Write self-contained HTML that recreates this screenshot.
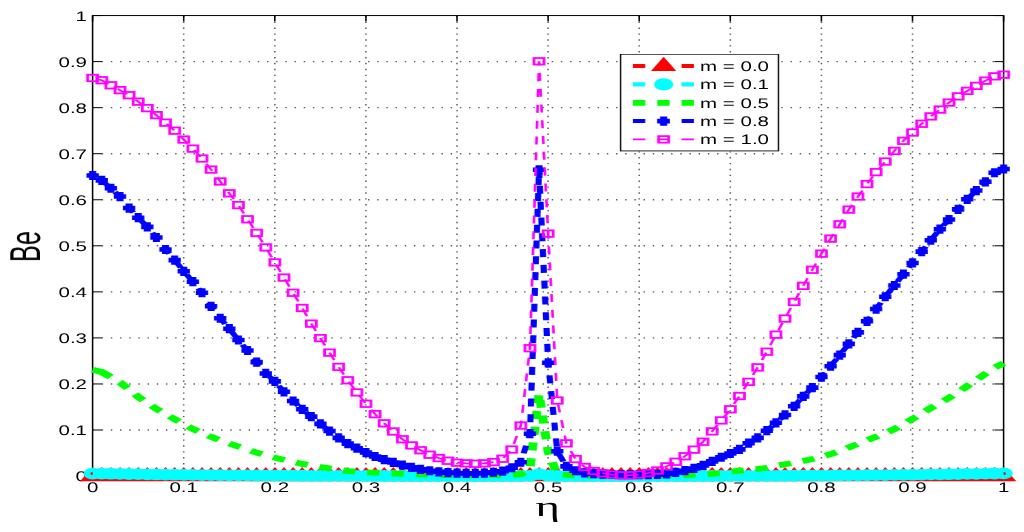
<!DOCTYPE html>
<html><head><meta charset="utf-8"><title>Be vs eta</title><style>html,body{margin:0;padding:0;background:#fff;width:1024px;height:532px;overflow:hidden}</style></head>
<body><svg width="1024" height="532" viewBox="0 0 1024 532" style="display:block">
<rect width="1024" height="532" fill="#fff"/>
<g transform="scale(1.54,1)">
<g stroke="#606060" stroke-width="1" fill="none"><line x1="119.29" y1="15.55" x2="119.29" y2="476.05" stroke-dasharray="1.4 4.484" stroke-dashoffset="-0.25"/><line x1="178.44" y1="15.55" x2="178.44" y2="476.05" stroke-dasharray="1.4 4.484" stroke-dashoffset="-0.25"/><line x1="237.6" y1="15.55" x2="237.6" y2="476.05" stroke-dasharray="1.4 4.484" stroke-dashoffset="-0.25"/><line x1="296.75" y1="15.55" x2="296.75" y2="476.05" stroke-dasharray="1.4 4.484" stroke-dashoffset="-0.25"/><line x1="355.91" y1="15.55" x2="355.91" y2="476.05" stroke-dasharray="1.4 4.484" stroke-dashoffset="-0.25"/><line x1="415.06" y1="15.55" x2="415.06" y2="476.05" stroke-dasharray="1.4 4.484" stroke-dashoffset="-0.25"/><line x1="474.22" y1="15.55" x2="474.22" y2="476.05" stroke-dasharray="1.4 4.484" stroke-dashoffset="-0.25"/><line x1="533.38" y1="15.55" x2="533.38" y2="476.05" stroke-dasharray="1.4 4.484" stroke-dashoffset="-0.25"/><line x1="592.53" y1="15.55" x2="592.53" y2="476.05" stroke-dasharray="1.4 4.484" stroke-dashoffset="-0.25"/><line x1="60.13" y1="430" x2="651.69" y2="430" stroke-dasharray="0.95 5.014" stroke-dashoffset="0.09" stroke-width="1.4"/><line x1="60.13" y1="383.95" x2="651.69" y2="383.95" stroke-dasharray="0.95 5.014" stroke-dashoffset="0.09" stroke-width="1.4"/><line x1="60.13" y1="337.9" x2="651.69" y2="337.9" stroke-dasharray="0.95 5.014" stroke-dashoffset="0.09" stroke-width="1.4"/><line x1="60.13" y1="291.85" x2="651.69" y2="291.85" stroke-dasharray="0.95 5.014" stroke-dashoffset="0.09" stroke-width="1.4"/><line x1="60.13" y1="245.8" x2="651.69" y2="245.8" stroke-dasharray="0.95 5.014" stroke-dashoffset="0.09" stroke-width="1.4"/><line x1="60.13" y1="199.75" x2="651.69" y2="199.75" stroke-dasharray="0.95 5.014" stroke-dashoffset="0.09" stroke-width="1.4"/><line x1="60.13" y1="153.7" x2="651.69" y2="153.7" stroke-dasharray="0.95 5.014" stroke-dashoffset="0.09" stroke-width="1.4"/><line x1="60.13" y1="107.65" x2="651.69" y2="107.65" stroke-dasharray="0.95 5.014" stroke-dashoffset="0.09" stroke-width="1.4"/><line x1="60.13" y1="61.6" x2="651.69" y2="61.6" stroke-dasharray="0.95 5.014" stroke-dashoffset="0.09" stroke-width="1.4"/></g>
<g stroke="#000" stroke-width="1" fill="none"><line x1="60.13" y1="476.05" x2="60.13" y2="470.05"/><line x1="60.13" y1="15.55" x2="60.13" y2="21.55"/><line x1="60.13" y1="476.05" x2="66.13" y2="476.05"/><line x1="651.69" y1="476.05" x2="645.69" y2="476.05"/><line x1="119.29" y1="476.05" x2="119.29" y2="470.05"/><line x1="119.29" y1="15.55" x2="119.29" y2="21.55"/><line x1="60.13" y1="430" x2="66.13" y2="430"/><line x1="651.69" y1="430" x2="645.69" y2="430"/><line x1="178.44" y1="476.05" x2="178.44" y2="470.05"/><line x1="178.44" y1="15.55" x2="178.44" y2="21.55"/><line x1="60.13" y1="383.95" x2="66.13" y2="383.95"/><line x1="651.69" y1="383.95" x2="645.69" y2="383.95"/><line x1="237.6" y1="476.05" x2="237.6" y2="470.05"/><line x1="237.6" y1="15.55" x2="237.6" y2="21.55"/><line x1="60.13" y1="337.9" x2="66.13" y2="337.9"/><line x1="651.69" y1="337.9" x2="645.69" y2="337.9"/><line x1="296.75" y1="476.05" x2="296.75" y2="470.05"/><line x1="296.75" y1="15.55" x2="296.75" y2="21.55"/><line x1="60.13" y1="291.85" x2="66.13" y2="291.85"/><line x1="651.69" y1="291.85" x2="645.69" y2="291.85"/><line x1="355.91" y1="476.05" x2="355.91" y2="470.05"/><line x1="355.91" y1="15.55" x2="355.91" y2="21.55"/><line x1="60.13" y1="245.8" x2="66.13" y2="245.8"/><line x1="651.69" y1="245.8" x2="645.69" y2="245.8"/><line x1="415.06" y1="476.05" x2="415.06" y2="470.05"/><line x1="415.06" y1="15.55" x2="415.06" y2="21.55"/><line x1="60.13" y1="199.75" x2="66.13" y2="199.75"/><line x1="651.69" y1="199.75" x2="645.69" y2="199.75"/><line x1="474.22" y1="476.05" x2="474.22" y2="470.05"/><line x1="474.22" y1="15.55" x2="474.22" y2="21.55"/><line x1="60.13" y1="153.7" x2="66.13" y2="153.7"/><line x1="651.69" y1="153.7" x2="645.69" y2="153.7"/><line x1="533.38" y1="476.05" x2="533.38" y2="470.05"/><line x1="533.38" y1="15.55" x2="533.38" y2="21.55"/><line x1="60.13" y1="107.65" x2="66.13" y2="107.65"/><line x1="651.69" y1="107.65" x2="645.69" y2="107.65"/><line x1="592.53" y1="476.05" x2="592.53" y2="470.05"/><line x1="592.53" y1="15.55" x2="592.53" y2="21.55"/><line x1="60.13" y1="61.6" x2="66.13" y2="61.6"/><line x1="651.69" y1="61.6" x2="645.69" y2="61.6"/><line x1="651.69" y1="476.05" x2="651.69" y2="470.05"/><line x1="651.69" y1="15.55" x2="651.69" y2="21.55"/><line x1="60.13" y1="15.55" x2="66.13" y2="15.55"/><line x1="651.69" y1="15.55" x2="645.69" y2="15.55"/><rect x="60.13" y="15.55" width="591.56" height="460.5"/></g>
</g>
<g fill="#000" opacity="0.999"><text transform="translate(92.6,492.25) scale(0.1476,0.1000)" text-rendering="geometricPrecision" font-family="Liberation Sans" font-size="139.0" text-anchor="middle">0</text><text transform="translate(87,481.05) scale(0.1476,0.1000)" text-rendering="geometricPrecision" font-family="Liberation Sans" font-size="139.0" text-anchor="end">0</text><text transform="translate(183.7,492.25) scale(0.1476,0.1000)" text-rendering="geometricPrecision" font-family="Liberation Sans" font-size="139.0" text-anchor="middle">0.1</text><text transform="translate(87,435) scale(0.1476,0.1000)" text-rendering="geometricPrecision" font-family="Liberation Sans" font-size="139.0" text-anchor="end">0.1</text><text transform="translate(274.8,492.25) scale(0.1476,0.1000)" text-rendering="geometricPrecision" font-family="Liberation Sans" font-size="139.0" text-anchor="middle">0.2</text><text transform="translate(87,388.95) scale(0.1476,0.1000)" text-rendering="geometricPrecision" font-family="Liberation Sans" font-size="139.0" text-anchor="end">0.2</text><text transform="translate(365.9,492.25) scale(0.1476,0.1000)" text-rendering="geometricPrecision" font-family="Liberation Sans" font-size="139.0" text-anchor="middle">0.3</text><text transform="translate(87,342.9) scale(0.1476,0.1000)" text-rendering="geometricPrecision" font-family="Liberation Sans" font-size="139.0" text-anchor="end">0.3</text><text transform="translate(457,492.25) scale(0.1476,0.1000)" text-rendering="geometricPrecision" font-family="Liberation Sans" font-size="139.0" text-anchor="middle">0.4</text><text transform="translate(87,296.85) scale(0.1476,0.1000)" text-rendering="geometricPrecision" font-family="Liberation Sans" font-size="139.0" text-anchor="end">0.4</text><text transform="translate(548.1,492.25) scale(0.1476,0.1000)" text-rendering="geometricPrecision" font-family="Liberation Sans" font-size="139.0" text-anchor="middle">0.5</text><text transform="translate(87,250.8) scale(0.1476,0.1000)" text-rendering="geometricPrecision" font-family="Liberation Sans" font-size="139.0" text-anchor="end">0.5</text><text transform="translate(639.2,492.25) scale(0.1476,0.1000)" text-rendering="geometricPrecision" font-family="Liberation Sans" font-size="139.0" text-anchor="middle">0.6</text><text transform="translate(87,204.75) scale(0.1476,0.1000)" text-rendering="geometricPrecision" font-family="Liberation Sans" font-size="139.0" text-anchor="end">0.6</text><text transform="translate(730.3,492.25) scale(0.1476,0.1000)" text-rendering="geometricPrecision" font-family="Liberation Sans" font-size="139.0" text-anchor="middle">0.7</text><text transform="translate(87,158.7) scale(0.1476,0.1000)" text-rendering="geometricPrecision" font-family="Liberation Sans" font-size="139.0" text-anchor="end">0.7</text><text transform="translate(821.4,492.25) scale(0.1476,0.1000)" text-rendering="geometricPrecision" font-family="Liberation Sans" font-size="139.0" text-anchor="middle">0.8</text><text transform="translate(87,112.65) scale(0.1476,0.1000)" text-rendering="geometricPrecision" font-family="Liberation Sans" font-size="139.0" text-anchor="end">0.8</text><text transform="translate(912.5,492.25) scale(0.1476,0.1000)" text-rendering="geometricPrecision" font-family="Liberation Sans" font-size="139.0" text-anchor="middle">0.9</text><text transform="translate(87,66.6) scale(0.1476,0.1000)" text-rendering="geometricPrecision" font-family="Liberation Sans" font-size="139.0" text-anchor="end">0.9</text><text transform="translate(1003.6,492.25) scale(0.1476,0.1000)" text-rendering="geometricPrecision" font-family="Liberation Sans" font-size="139.0" text-anchor="middle">1</text><text transform="translate(87,20.55) scale(0.1476,0.1000)" text-rendering="geometricPrecision" font-family="Liberation Sans" font-size="139.0" text-anchor="end">1</text></g>
<g transform="scale(1.54,1)">
<polyline points="60.13,476.05 66.05,476.05 71.96,476.05 77.88,476.05 83.79,476.05 89.71,476.05 95.62,476.05 101.54,476.05 107.45,476.05 113.37,476.05 119.29,476.05 125.2,476.05 131.12,476.05 137.03,476.05 142.95,476.05 148.86,476.05 154.78,476.05 160.69,476.05 166.61,476.05 172.53,476.05 178.44,476.05 184.36,476.05 190.27,476.05 196.19,476.05 202.1,476.05 208.02,476.05 213.94,476.05 219.85,476.05 225.77,476.05 231.68,476.05 237.6,476.05 243.51,476.05 249.43,476.05 255.34,476.05 261.26,476.05 267.18,476.05 273.09,476.05 279.01,476.05 284.92,476.05 290.84,476.05 296.75,476.05 302.67,476.05 308.58,476.05 314.5,476.05 320.42,476.05 326.33,476.05 332.25,476.05 338.16,476.05 344.08,476.05 349.99,476.05 355.91,476.05 361.82,476.05 367.74,476.05 373.66,476.05 379.57,476.05 385.49,476.05 391.4,476.05 397.32,476.05 403.23,476.05 409.15,476.05 415.06,476.05 420.98,476.05 426.9,476.05 432.81,476.05 438.73,476.05 444.64,476.05 450.56,476.05 456.47,476.05 462.39,476.05 468.31,476.05 474.22,476.05 480.14,476.05 486.05,476.05 491.97,476.05 497.88,476.05 503.8,476.05 509.71,476.05 515.63,476.05 521.55,476.05 527.46,476.05 533.38,476.05 539.29,476.05 545.21,476.05 551.12,476.05 557.04,476.05 562.95,476.05 568.87,476.05 574.79,476.05 580.7,476.05 586.62,476.05 592.53,476.05 598.45,476.05 604.36,476.05 610.28,476.05 616.19,476.05 622.11,476.05 628.03,476.05 633.94,476.05 639.86,476.05 645.77,476.05 651.69,476.05" fill="none" stroke="#f00" stroke-width="4" stroke-dasharray="8 7.8"/>
<path fill="#f00" d="M60.13,466.9L51.9,481.15L68.36,481.15ZM66.05,466.9L57.82,481.15L74.27,481.15ZM71.96,466.9L63.73,481.15L80.19,481.15ZM77.88,466.9L69.65,481.15L86.1,481.15ZM83.79,466.9L75.57,481.15L92.02,481.15ZM89.71,466.9L81.48,481.15L97.93,481.15ZM95.62,466.9L87.4,481.15L103.85,481.15ZM101.54,466.9L93.31,481.15L109.77,481.15ZM107.45,466.9L99.23,481.15L115.68,481.15ZM113.37,466.9L105.14,481.15L121.6,481.15ZM119.29,466.9L111.06,481.15L127.51,481.15ZM125.2,466.9L116.97,481.15L133.43,481.15ZM131.12,466.9L122.89,481.15L139.34,481.15ZM137.03,466.9L128.81,481.15L145.26,481.15ZM142.95,466.9L134.72,481.15L151.18,481.15ZM148.86,466.9L140.64,481.15L157.09,481.15ZM154.78,466.9L146.55,481.15L163.01,481.15ZM160.69,466.9L152.47,481.15L168.92,481.15ZM166.61,466.9L158.38,481.15L174.84,481.15ZM172.53,466.9L164.3,481.15L180.75,481.15ZM178.44,466.9L170.21,481.15L186.67,481.15ZM184.36,466.9L176.13,481.15L192.58,481.15ZM190.27,466.9L182.05,481.15L198.5,481.15ZM196.19,466.9L187.96,481.15L204.42,481.15ZM202.1,466.9L193.88,481.15L210.33,481.15ZM208.02,466.9L199.79,481.15L216.25,481.15ZM213.94,466.9L205.71,481.15L222.16,481.15ZM219.85,466.9L211.62,481.15L228.08,481.15ZM225.77,466.9L217.54,481.15L233.99,481.15ZM231.68,466.9L223.45,481.15L239.91,481.15ZM237.6,466.9L229.37,481.15L245.82,481.15ZM243.51,466.9L235.29,481.15L251.74,481.15ZM249.43,466.9L241.2,481.15L257.66,481.15ZM255.34,466.9L247.12,481.15L263.57,481.15ZM261.26,466.9L253.03,481.15L269.49,481.15ZM267.18,466.9L258.95,481.15L275.4,481.15ZM273.09,466.9L264.86,481.15L281.32,481.15ZM279.01,466.9L270.78,481.15L287.23,481.15ZM284.92,466.9L276.7,481.15L293.15,481.15ZM290.84,466.9L282.61,481.15L299.06,481.15ZM296.75,466.9L288.53,481.15L304.98,481.15ZM302.67,466.9L294.44,481.15L310.9,481.15ZM308.58,466.9L300.36,481.15L316.81,481.15ZM314.5,466.9L306.27,481.15L322.73,481.15ZM320.42,466.9L312.19,481.15L328.64,481.15ZM326.33,466.9L318.1,481.15L334.56,481.15ZM332.25,466.9L324.02,481.15L340.47,481.15ZM338.16,466.9L329.94,481.15L346.39,481.15ZM344.08,466.9L335.85,481.15L352.3,481.15ZM349.99,466.9L341.77,481.15L358.22,481.15ZM355.91,466.9L347.68,481.15L364.14,481.15ZM361.82,466.9L353.6,481.15L370.05,481.15ZM367.74,466.9L359.51,481.15L375.97,481.15ZM373.66,466.9L365.43,481.15L381.88,481.15ZM379.57,466.9L371.34,481.15L387.8,481.15ZM385.49,466.9L377.26,481.15L393.71,481.15ZM391.4,466.9L383.18,481.15L399.63,481.15ZM397.32,466.9L389.09,481.15L405.55,481.15ZM403.23,466.9L395.01,481.15L411.46,481.15ZM409.15,466.9L400.92,481.15L417.38,481.15ZM415.06,466.9L406.84,481.15L423.29,481.15ZM420.98,466.9L412.75,481.15L429.21,481.15ZM426.9,466.9L418.67,481.15L435.12,481.15ZM432.81,466.9L424.58,481.15L441.04,481.15ZM438.73,466.9L430.5,481.15L446.95,481.15ZM444.64,466.9L436.42,481.15L452.87,481.15ZM450.56,466.9L442.33,481.15L458.79,481.15ZM456.47,466.9L448.25,481.15L464.7,481.15ZM462.39,466.9L454.16,481.15L470.62,481.15ZM468.31,466.9L460.08,481.15L476.53,481.15ZM474.22,466.9L465.99,481.15L482.45,481.15ZM480.14,466.9L471.91,481.15L488.36,481.15ZM486.05,466.9L477.82,481.15L494.28,481.15ZM491.97,466.9L483.74,481.15L500.19,481.15ZM497.88,466.9L489.66,481.15L506.11,481.15ZM503.8,466.9L495.57,481.15L512.03,481.15ZM509.71,466.9L501.49,481.15L517.94,481.15ZM515.63,466.9L507.4,481.15L523.86,481.15ZM521.55,466.9L513.32,481.15L529.77,481.15ZM527.46,466.9L519.23,481.15L535.69,481.15ZM533.38,466.9L525.15,481.15L541.6,481.15ZM539.29,466.9L531.07,481.15L547.52,481.15ZM545.21,466.9L536.98,481.15L553.43,481.15ZM551.12,466.9L542.9,481.15L559.35,481.15ZM557.04,466.9L548.81,481.15L565.27,481.15ZM562.95,466.9L554.73,481.15L571.18,481.15ZM568.87,466.9L560.64,481.15L577.1,481.15ZM574.79,466.9L566.56,481.15L583.01,481.15ZM580.7,466.9L572.47,481.15L588.93,481.15ZM586.62,466.9L578.39,481.15L594.84,481.15ZM592.53,466.9L584.31,481.15L600.76,481.15ZM598.45,466.9L590.22,481.15L606.68,481.15ZM604.36,466.9L596.14,481.15L612.59,481.15ZM610.28,466.9L602.05,481.15L618.51,481.15ZM616.19,466.9L607.97,481.15L624.42,481.15ZM622.11,466.9L613.88,481.15L630.34,481.15ZM628.03,466.9L619.8,481.15L636.25,481.15ZM633.94,466.9L625.71,481.15L642.17,481.15ZM639.86,466.9L631.63,481.15L648.08,481.15ZM645.77,466.9L637.55,481.15L654,481.15ZM651.69,466.9L643.46,481.15L659.92,481.15Z"/>
<polyline points="60.13,473.55 66.05,473.6 71.96,473.72 77.88,473.85 83.79,474.02 89.71,474.19 95.62,474.34 101.54,474.47 107.45,474.59 113.37,474.71 119.29,474.83 125.2,474.94 131.12,475.04 137.03,475.13 142.95,475.21 148.86,475.28 154.78,475.36 160.69,475.43 166.61,475.5 172.53,475.56 178.44,475.62 184.36,475.67 190.27,475.72 196.19,475.76 202.1,475.8 208.02,475.84 213.94,475.87 219.85,475.9 225.77,475.93 231.68,475.95 237.6,475.96 243.51,475.97 249.43,475.98 255.34,475.99 261.26,476 267.18,476 273.09,476.01 279.01,476.01 284.92,476.02 290.84,476.03 296.75,476.03 302.67,476.03 308.58,476.03 314.5,476.03 320.42,476.03 326.33,476.03 332.25,476.02 338.16,476.01 344.08,475.89 349.99,474.11 355.91,475.49 361.82,476.01 367.74,476.02 373.66,476.03 379.57,476.04 385.49,476.04 391.4,476.04 397.32,476.04 403.23,476.04 409.15,476.04 415.06,476.04 420.98,476.04 426.9,476.04 432.81,476.03 438.73,476.03 444.64,476.03 450.56,476.02 456.47,476.01 462.39,476 468.31,475.98 474.22,475.95 480.14,475.92 486.05,475.91 491.97,475.88 497.88,475.85 503.8,475.81 509.71,475.77 515.63,475.74 521.55,475.7 527.46,475.65 533.38,475.6 539.29,475.54 545.21,475.46 551.12,475.38 557.04,475.3 562.95,475.21 568.87,475.13 574.79,475.04 580.7,474.95 586.62,474.83 592.53,474.71 598.45,474.58 604.36,474.45 610.28,474.33 616.19,474.21 622.11,474.08 628.03,473.94 633.94,473.79 639.86,473.65 645.77,473.5 651.69,473.4" fill="none" stroke="#0ff" stroke-width="4.4" stroke-dasharray="8 7.8"/>
<g fill="#0ff"><circle cx="60.13" cy="473.55" r="5.9"/><circle cx="66.05" cy="473.6" r="5.9"/><circle cx="71.96" cy="473.72" r="5.9"/><circle cx="77.88" cy="473.85" r="5.9"/><circle cx="83.79" cy="474.02" r="5.9"/><circle cx="89.71" cy="474.19" r="5.9"/><circle cx="95.62" cy="474.34" r="5.9"/><circle cx="101.54" cy="474.47" r="5.9"/><circle cx="107.45" cy="474.59" r="5.9"/><circle cx="113.37" cy="474.71" r="5.9"/><circle cx="119.29" cy="474.83" r="5.9"/><circle cx="125.2" cy="474.94" r="5.9"/><circle cx="131.12" cy="475.04" r="5.9"/><circle cx="137.03" cy="475.13" r="5.9"/><circle cx="142.95" cy="475.21" r="5.9"/><circle cx="148.86" cy="475.28" r="5.9"/><circle cx="154.78" cy="475.36" r="5.9"/><circle cx="160.69" cy="475.43" r="5.9"/><circle cx="166.61" cy="475.5" r="5.9"/><circle cx="172.53" cy="475.56" r="5.9"/><circle cx="178.44" cy="475.62" r="5.9"/><circle cx="184.36" cy="475.67" r="5.9"/><circle cx="190.27" cy="475.72" r="5.9"/><circle cx="196.19" cy="475.76" r="5.9"/><circle cx="202.1" cy="475.8" r="5.9"/><circle cx="208.02" cy="475.84" r="5.9"/><circle cx="213.94" cy="475.87" r="5.9"/><circle cx="219.85" cy="475.9" r="5.9"/><circle cx="225.77" cy="475.93" r="5.9"/><circle cx="231.68" cy="475.95" r="5.9"/><circle cx="237.6" cy="475.96" r="5.9"/><circle cx="243.51" cy="475.97" r="5.9"/><circle cx="249.43" cy="475.98" r="5.9"/><circle cx="255.34" cy="475.99" r="5.9"/><circle cx="261.26" cy="476" r="5.9"/><circle cx="267.18" cy="476" r="5.9"/><circle cx="273.09" cy="476.01" r="5.9"/><circle cx="279.01" cy="476.01" r="5.9"/><circle cx="284.92" cy="476.02" r="5.9"/><circle cx="290.84" cy="476.03" r="5.9"/><circle cx="296.75" cy="476.03" r="5.9"/><circle cx="302.67" cy="476.03" r="5.9"/><circle cx="308.58" cy="476.03" r="5.9"/><circle cx="314.5" cy="476.03" r="5.9"/><circle cx="320.42" cy="476.03" r="5.9"/><circle cx="326.33" cy="476.03" r="5.9"/><circle cx="332.25" cy="476.02" r="5.9"/><circle cx="338.16" cy="476.01" r="5.9"/><circle cx="344.08" cy="475.89" r="5.9"/><circle cx="349.99" cy="474.11" r="5.9"/><circle cx="355.91" cy="475.49" r="5.9"/><circle cx="361.82" cy="476.01" r="5.9"/><circle cx="367.74" cy="476.02" r="5.9"/><circle cx="373.66" cy="476.03" r="5.9"/><circle cx="379.57" cy="476.04" r="5.9"/><circle cx="385.49" cy="476.04" r="5.9"/><circle cx="391.4" cy="476.04" r="5.9"/><circle cx="397.32" cy="476.04" r="5.9"/><circle cx="403.23" cy="476.04" r="5.9"/><circle cx="409.15" cy="476.04" r="5.9"/><circle cx="415.06" cy="476.04" r="5.9"/><circle cx="420.98" cy="476.04" r="5.9"/><circle cx="426.9" cy="476.04" r="5.9"/><circle cx="432.81" cy="476.03" r="5.9"/><circle cx="438.73" cy="476.03" r="5.9"/><circle cx="444.64" cy="476.03" r="5.9"/><circle cx="450.56" cy="476.02" r="5.9"/><circle cx="456.47" cy="476.01" r="5.9"/><circle cx="462.39" cy="476" r="5.9"/><circle cx="468.31" cy="475.98" r="5.9"/><circle cx="474.22" cy="475.95" r="5.9"/><circle cx="480.14" cy="475.92" r="5.9"/><circle cx="486.05" cy="475.91" r="5.9"/><circle cx="491.97" cy="475.88" r="5.9"/><circle cx="497.88" cy="475.85" r="5.9"/><circle cx="503.8" cy="475.81" r="5.9"/><circle cx="509.71" cy="475.77" r="5.9"/><circle cx="515.63" cy="475.74" r="5.9"/><circle cx="521.55" cy="475.7" r="5.9"/><circle cx="527.46" cy="475.65" r="5.9"/><circle cx="533.38" cy="475.6" r="5.9"/><circle cx="539.29" cy="475.54" r="5.9"/><circle cx="545.21" cy="475.46" r="5.9"/><circle cx="551.12" cy="475.38" r="5.9"/><circle cx="557.04" cy="475.3" r="5.9"/><circle cx="562.95" cy="475.21" r="5.9"/><circle cx="568.87" cy="475.13" r="5.9"/><circle cx="574.79" cy="475.04" r="5.9"/><circle cx="580.7" cy="474.95" r="5.9"/><circle cx="586.62" cy="474.83" r="5.9"/><circle cx="592.53" cy="474.71" r="5.9"/><circle cx="598.45" cy="474.58" r="5.9"/><circle cx="604.36" cy="474.45" r="5.9"/><circle cx="610.28" cy="474.33" r="5.9"/><circle cx="616.19" cy="474.21" r="5.9"/><circle cx="622.11" cy="474.08" r="5.9"/><circle cx="628.03" cy="473.94" r="5.9"/><circle cx="633.94" cy="473.79" r="5.9"/><circle cx="639.86" cy="473.65" r="5.9"/><circle cx="645.77" cy="473.5" r="5.9"/><circle cx="651.69" cy="473.4" r="5.9"/></g>
<path fill="#f00" d="M60.13,472.05A1.5,1.5 0 0 0 60.13,475.05Z M651.69,471.9A1.5,1.5 0 0 1 651.69,474.9Z"/>
<polyline points="60.13,369.81 66.05,371.98 71.75,376.86" fill="none" stroke="#0f0" stroke-width="5.8"/>
<polyline points="60.13,369.81 66.05,371.98 71.96,377.04 77.88,382.34 83.79,389.46 89.71,396.84 95.62,403.08 101.54,408.82 107.45,414.1 113.37,419.13 119.29,424.2 125.2,428.94 131.12,433.08 137.03,436.85 142.95,440.3 148.86,443.47 154.78,446.58 160.69,449.67 166.61,452.57 172.53,455.18 178.44,457.59 184.36,459.85 190.27,461.99 196.19,463.9 202.1,465.54 208.02,466.99 213.94,468.36 219.85,469.74 225.77,470.91 231.68,471.67 237.6,472.23 243.51,472.69 249.43,473.13 255.34,473.52 261.26,473.83 267.18,474.07 273.09,474.28 279.01,474.52 284.92,474.8 290.84,475.03 296.75,475.13 302.67,475.13 308.58,475.13 314.5,475.13 320.42,475.13 326.33,475.13 332.25,474.9 338.16,474.21 344.08,469.14 349.99,393.62 355.91,452.1 361.82,474.21 367.74,474.9 373.66,475.32 379.57,475.53 385.49,475.59 391.4,475.59 397.32,475.59 403.23,475.59 409.15,475.59 415.06,475.59" fill="none" stroke="#0f0" stroke-width="5.8" stroke-dasharray="8 7.8" stroke-dashoffset="9.99"/>
<polyline points="415.06,475.59 420.98,475.57 426.9,475.5 432.81,475.41 438.73,475.28 444.64,475.13 450.56,474.86 456.47,474.4 462.39,473.81 468.31,472.94 474.22,471.75 480.14,470.71 486.05,469.89 491.97,469.01 497.88,467.73 503.8,466.02 509.71,464.24 515.63,462.65 521.55,461.03 527.46,459.12 533.38,456.85 539.29,454.23 545.21,451.09 551.12,447.49 557.04,443.93 562.95,440.37 568.87,436.74 574.79,433.13 580.7,429.1 586.62,424.23 592.53,418.95 598.45,413.44 604.36,408.01 610.28,403.06 616.19,397.91 622.11,392.13 628.03,386.11 633.94,379.95 639.86,373.81 645.77,367.6 651.69,363.23" fill="none" stroke="#0f0" stroke-width="5.8" stroke-dasharray="8 7.8" stroke-dashoffset="3.01"/>
<polyline points="60.13,175.48 66.05,180.41 71.96,188.24 77.88,196.53 83.79,208.04 89.71,217.71 95.62,226.92 101.54,237.51 107.45,249.48 113.37,260.08 119.29,271.31 125.2,281.72 131.12,292.77 137.03,306.31 142.95,318.24 148.86,328.69 154.78,340.02 160.69,350.52 166.61,362.12 172.53,373.45 178.44,381.33 184.36,391.82 190.27,400.99 196.19,409.28 202.1,416.65 208.02,423.83 213.94,431.06 219.85,437.92 225.77,443.58 231.68,448.19 237.6,452.56 243.51,456.48 249.43,459.7 255.34,462.47 261.26,465 267.18,467.3 273.09,469.37 279.01,470.75 284.92,471.81 290.84,472.6 296.75,473.06 302.67,473.38 308.58,473.38 314.5,473.06 320.42,472.27 326.33,471.21 332.25,467.76 338.16,462.24 344.08,433.68 349.99,169.82 355.91,362.77 361.82,451.18 367.74,466.38 373.66,470.75 379.57,472.83 385.49,473.71 391.4,474.21 397.32,474.52 403.23,474.67 409.15,474.67 415.06,474.67 420.98,474.61 426.9,474.44 432.81,473.84 438.73,472.46 444.64,470.68 450.56,468.43 456.47,465.35 462.39,461.42 468.31,457.24 474.22,453.49 480.14,449.34 486.05,443.22 491.97,437.83 497.88,430.69 503.8,422.82 509.71,414.94 515.63,406.28 521.55,396.38 527.46,387.63 533.38,377.04 539.29,366.22 545.21,355.17 551.12,343.89 557.04,332.37 562.95,321.32 568.87,309.03 574.79,296.73 580.7,285.5 586.62,274.21 592.53,262.93 598.45,251.6 604.36,240.27 610.28,229.22 616.19,219.55 622.11,209.42 628.03,199.29 633.94,190.54 639.86,181.79 645.77,172.76 651.69,168.99" fill="none" stroke="#00f" stroke-width="4" stroke-dasharray="8 7.8" stroke-dashoffset="9.46"/>
<path fill="none" stroke="#00f" stroke-width="4.6" d="M56.13,175.48H64.13M60.13,170.88V180.08M62.05,180.41H70.05M66.05,175.81V185.01M67.96,188.24H75.96M71.96,183.64V192.84M73.88,196.53H81.88M77.88,191.93V201.13M79.79,208.04H87.79M83.79,203.44V212.64M85.71,217.71H93.71M89.71,213.11V222.31M91.62,226.92H99.62M95.62,222.32V231.52M97.54,237.51H105.54M101.54,232.91V242.11M103.45,249.48H111.45M107.45,244.88V254.08M109.37,260.08H117.37M113.37,255.48V264.68M115.29,271.31H123.29M119.29,266.71V275.91M121.2,281.72H129.2M125.2,277.12V286.32M127.12,292.77H135.12M131.12,288.17V297.37M133.03,306.31H141.03M137.03,301.71V310.91M138.95,318.24H146.95M142.95,313.64V322.84M144.86,328.69H152.86M148.86,324.09V333.29M150.78,340.02H158.78M154.78,335.42V344.62M156.69,350.52H164.69M160.69,345.92V355.12M162.61,362.12H170.61M166.61,357.52V366.72M168.53,373.45H176.53M172.53,368.85V378.05M174.44,381.33H182.44M178.44,376.73V385.93M180.36,391.82H188.36M184.36,387.22V396.42M186.27,400.99H194.27M190.27,396.39V405.59M192.19,409.28H200.19M196.19,404.68V413.88M198.1,416.65H206.1M202.1,412.05V421.25M204.02,423.83H212.02M208.02,419.23V428.43M209.94,431.06H217.94M213.94,426.46V435.66M215.85,437.92H223.85M219.85,433.32V442.52M221.77,443.58H229.77M225.77,438.98V448.18M227.68,448.19H235.68M231.68,443.59V452.79M233.6,452.56H241.6M237.6,447.96V457.16M239.51,456.48H247.51M243.51,451.88V461.08M245.43,459.7H253.43M249.43,455.1V464.3M251.34,462.47H259.34M255.34,457.87V467.07M257.26,465H265.26M261.26,460.4V469.6M263.18,467.3H271.18M267.18,462.7V471.9M269.09,469.37H277.09M273.09,464.77V473.97M275.01,470.75H283.01M279.01,466.15V475.35M280.92,471.81H288.92M284.92,467.21V476.41M286.84,472.6H294.84M290.84,468V477.2M292.75,473.06H300.75M296.75,468.46V477.66M298.67,473.38H306.67M302.67,468.78V477.98M304.58,473.38H312.58M308.58,468.78V477.98M310.5,473.06H318.5M314.5,468.46V477.66M316.42,472.27H324.42M320.42,467.67V476.87M322.33,471.21H330.33M326.33,466.61V475.81M328.25,467.76H336.25M332.25,463.16V472.36M334.16,462.24H342.16M338.16,457.63V466.84M340.08,433.68H348.08M344.08,429.08V438.28M345.99,169.82H353.99M349.99,165.22V174.42M351.91,362.77H359.91M355.91,358.17V367.37M357.82,451.18H365.82M361.82,446.58V455.78M363.74,466.38H371.74M367.74,461.78V470.98M369.66,470.75H377.66M373.66,466.15V475.35M375.57,472.83H383.57M379.57,468.23V477.43M381.49,473.71H389.49M385.49,469.11V478.31M387.4,474.21H395.4M391.4,469.61V478.81M393.32,474.52H401.32M397.32,469.92V479.12M399.23,474.67H407.23M403.23,470.07V479.27M405.15,474.67H413.15M409.15,470.07V479.27M411.06,474.67H419.06M415.06,470.07V479.27M416.98,474.61H424.98M420.98,470.01V479.21M422.9,474.44H430.9M426.9,469.84V479.04M428.81,473.84H436.81M432.81,469.24V478.44M434.73,472.46H442.73M438.73,467.86V477.06M440.64,470.68H448.64M444.64,466.08V475.28M446.56,468.43H454.56M450.56,463.83V473.03M452.47,465.35H460.47M456.47,460.75V469.95M458.39,461.42H466.39M462.39,456.82V466.02M464.31,457.24H472.31M468.31,452.64V461.84M470.22,453.49H478.22M474.22,448.89V458.09M476.14,449.34H484.14M480.14,444.74V453.94M482.05,443.22H490.05M486.05,438.62V447.82M487.97,437.83H495.97M491.97,433.23V442.43M493.88,430.69H501.88M497.88,426.09V435.29M499.8,422.82H507.8M503.8,418.22V427.42M505.71,414.94H513.71M509.71,410.34V419.54M511.63,406.28H519.63M515.63,401.68V410.88M517.55,396.38H525.55M521.55,391.78V400.98M523.46,387.63H531.46M527.46,383.03V392.23M529.38,377.04H537.38M533.38,372.44V381.64M535.29,366.22H543.29M539.29,361.62V370.82M541.21,355.17H549.21M545.21,350.57V359.77M547.12,343.89H555.12M551.12,339.29V348.49M553.04,332.37H561.04M557.04,327.77V336.97M558.95,321.32H566.95M562.95,316.72V325.92M564.87,309.03H572.87M568.87,304.43V313.63M570.79,296.73H578.79M574.79,292.13V301.33M576.7,285.5H584.7M580.7,280.9V290.1M582.62,274.21H590.62M586.62,269.61V278.81M588.53,262.93H596.53M592.53,258.33V267.53M594.45,251.6H602.45M598.45,247V256.2M600.36,240.27H608.36M604.36,235.67V244.87M606.28,229.22H614.28M610.28,224.62V233.82M612.19,219.55H620.19M616.19,214.95V224.15M618.11,209.42H626.11M622.11,204.82V214.02M624.03,199.29H632.03M628.03,194.69V203.89M629.94,190.54H637.94M633.94,185.94V195.14M635.86,181.79H643.86M639.86,177.19V186.39M641.77,172.76H649.77M645.77,168.16V177.36M647.69,168.99H655.69M651.69,164.39V173.59"/>
<polyline points="60.13,77.95 66.05,80.25 71.96,85.27 77.88,90.15 83.79,95.22 89.71,101.66 95.62,108.11 101.54,115.16 107.45,122.66 113.37,130.68 119.29,139.56 125.2,148.63 131.12,158.49 137.03,169.59 142.95,181.47 148.86,193.3 154.78,205.09 160.69,219.28 166.61,232.91 172.53,247.41 178.44,262.38 184.36,277.57 190.27,292.77 196.19,307.97 202.1,323.62 208.02,338.13 213.94,352.64 219.85,366.91 225.77,380.27 231.68,392.42 237.6,403.75 243.51,414.11 249.43,423.32 255.34,431.47 261.26,439.21 267.18,445.43 273.09,450.26 279.01,454.73 284.92,458.09 290.84,460.76 296.75,462.7 302.67,463.34 308.58,463.75 314.5,463.34 320.42,462.05 326.33,458.74 332.25,449.53 338.16,425.53 344.08,348.22 349.99,61.28 355.91,233.6 361.82,400.53 367.74,443.35 373.66,459.01 379.57,466.98 385.49,470.98 391.4,473.29 397.32,474.58 403.23,475.27 409.15,475.27 415.06,474.58" fill="none" stroke="#f0f" stroke-width="1.7" stroke-dasharray="8 7.8" stroke-dashoffset="11.73"/>
<polyline points="415.06,474.58 420.98,473.06 426.9,470.52 432.81,466.38 438.73,461.77 444.64,456.25 450.56,449.66 456.47,441.74 462.39,431.38 468.31,420.42 474.22,409.28 480.14,396.02 486.05,381.83 491.97,367.37 497.88,351.72 503.8,334.68 509.71,318.56 515.63,301.98 521.55,285.86 527.46,269.75 533.38,253.63 539.29,238.62 545.21,224.29 551.12,209.6 557.04,196.53 562.95,184.09 568.87,172.12 574.79,161.53 580.7,150.94 586.62,140.81 592.53,132.52 598.45,123.77 604.36,116.4 610.28,109.58 616.19,102.58 622.11,96.37 628.03,90.89 633.94,85.87 639.86,80.66 645.77,76.34 651.69,74.68" fill="none" stroke="#f0f" stroke-width="1.7" stroke-dasharray="8 7.8" stroke-dashoffset="13.63"/>
<g fill="none" stroke="#f0f" stroke-width="1.8"><rect x="56.88" y="74.7" width="6.5" height="6.5"/><rect x="62.8" y="77" width="6.5" height="6.5"/><rect x="68.71" y="82.02" width="6.5" height="6.5"/><rect x="74.63" y="86.9" width="6.5" height="6.5"/><rect x="80.54" y="91.97" width="6.5" height="6.5"/><rect x="86.46" y="98.41" width="6.5" height="6.5"/><rect x="92.37" y="104.86" width="6.5" height="6.5"/><rect x="98.29" y="111.91" width="6.5" height="6.5"/><rect x="104.2" y="119.41" width="6.5" height="6.5"/><rect x="110.12" y="127.43" width="6.5" height="6.5"/><rect x="116.04" y="136.31" width="6.5" height="6.5"/><rect x="121.95" y="145.38" width="6.5" height="6.5"/><rect x="127.87" y="155.24" width="6.5" height="6.5"/><rect x="133.78" y="166.34" width="6.5" height="6.5"/><rect x="139.7" y="178.22" width="6.5" height="6.5"/><rect x="145.61" y="190.05" width="6.5" height="6.5"/><rect x="151.53" y="201.84" width="6.5" height="6.5"/><rect x="157.44" y="216.03" width="6.5" height="6.5"/><rect x="163.36" y="229.66" width="6.5" height="6.5"/><rect x="169.28" y="244.16" width="6.5" height="6.5"/><rect x="175.19" y="259.13" width="6.5" height="6.5"/><rect x="181.11" y="274.32" width="6.5" height="6.5"/><rect x="187.02" y="289.52" width="6.5" height="6.5"/><rect x="192.94" y="304.72" width="6.5" height="6.5"/><rect x="198.85" y="320.37" width="6.5" height="6.5"/><rect x="204.77" y="334.88" width="6.5" height="6.5"/><rect x="210.69" y="349.39" width="6.5" height="6.5"/><rect x="216.6" y="363.66" width="6.5" height="6.5"/><rect x="222.52" y="377.02" width="6.5" height="6.5"/><rect x="228.43" y="389.17" width="6.5" height="6.5"/><rect x="234.35" y="400.5" width="6.5" height="6.5"/><rect x="240.26" y="410.86" width="6.5" height="6.5"/><rect x="246.18" y="420.07" width="6.5" height="6.5"/><rect x="252.09" y="428.22" width="6.5" height="6.5"/><rect x="258.01" y="435.96" width="6.5" height="6.5"/><rect x="263.93" y="442.18" width="6.5" height="6.5"/><rect x="269.84" y="447.01" width="6.5" height="6.5"/><rect x="275.76" y="451.48" width="6.5" height="6.5"/><rect x="281.67" y="454.84" width="6.5" height="6.5"/><rect x="287.59" y="457.51" width="6.5" height="6.5"/><rect x="293.5" y="459.45" width="6.5" height="6.5"/><rect x="299.42" y="460.09" width="6.5" height="6.5"/><rect x="305.33" y="460.5" width="6.5" height="6.5"/><rect x="311.25" y="460.09" width="6.5" height="6.5"/><rect x="317.17" y="458.8" width="6.5" height="6.5"/><rect x="323.08" y="455.49" width="6.5" height="6.5"/><rect x="329" y="446.28" width="6.5" height="6.5"/><rect x="334.91" y="422.28" width="6.5" height="6.5"/><rect x="340.83" y="344.97" width="6.5" height="6.5"/><rect x="346.74" y="58.03" width="6.5" height="6.5"/><rect x="352.66" y="230.35" width="6.5" height="6.5"/><rect x="358.57" y="397.28" width="6.5" height="6.5"/><rect x="364.49" y="440.1" width="6.5" height="6.5"/><rect x="370.41" y="455.76" width="6.5" height="6.5"/><rect x="376.32" y="463.73" width="6.5" height="6.5"/><rect x="382.24" y="467.73" width="6.5" height="6.5"/><rect x="388.15" y="470.04" width="6.5" height="6.5"/><rect x="394.07" y="471.33" width="6.5" height="6.5"/><rect x="399.98" y="472.02" width="6.5" height="6.5"/><rect x="405.9" y="472.02" width="6.5" height="6.5"/><rect x="411.81" y="471.33" width="6.5" height="6.5"/><rect x="417.73" y="469.81" width="6.5" height="6.5"/><rect x="423.65" y="467.27" width="6.5" height="6.5"/><rect x="429.56" y="463.13" width="6.5" height="6.5"/><rect x="435.48" y="458.52" width="6.5" height="6.5"/><rect x="441.39" y="453" width="6.5" height="6.5"/><rect x="447.31" y="446.41" width="6.5" height="6.5"/><rect x="453.22" y="438.49" width="6.5" height="6.5"/><rect x="459.14" y="428.13" width="6.5" height="6.5"/><rect x="465.06" y="417.17" width="6.5" height="6.5"/><rect x="470.97" y="406.03" width="6.5" height="6.5"/><rect x="476.89" y="392.77" width="6.5" height="6.5"/><rect x="482.8" y="378.58" width="6.5" height="6.5"/><rect x="488.72" y="364.12" width="6.5" height="6.5"/><rect x="494.63" y="348.47" width="6.5" height="6.5"/><rect x="500.55" y="331.43" width="6.5" height="6.5"/><rect x="506.46" y="315.31" width="6.5" height="6.5"/><rect x="512.38" y="298.73" width="6.5" height="6.5"/><rect x="518.3" y="282.61" width="6.5" height="6.5"/><rect x="524.21" y="266.5" width="6.5" height="6.5"/><rect x="530.13" y="250.38" width="6.5" height="6.5"/><rect x="536.04" y="235.37" width="6.5" height="6.5"/><rect x="541.96" y="221.04" width="6.5" height="6.5"/><rect x="547.87" y="206.35" width="6.5" height="6.5"/><rect x="553.79" y="193.28" width="6.5" height="6.5"/><rect x="559.7" y="180.84" width="6.5" height="6.5"/><rect x="565.62" y="168.87" width="6.5" height="6.5"/><rect x="571.54" y="158.28" width="6.5" height="6.5"/><rect x="577.45" y="147.69" width="6.5" height="6.5"/><rect x="583.37" y="137.56" width="6.5" height="6.5"/><rect x="589.28" y="129.27" width="6.5" height="6.5"/><rect x="595.2" y="120.52" width="6.5" height="6.5"/><rect x="601.11" y="113.15" width="6.5" height="6.5"/><rect x="607.03" y="106.33" width="6.5" height="6.5"/><rect x="612.94" y="99.33" width="6.5" height="6.5"/><rect x="618.86" y="93.12" width="6.5" height="6.5"/><rect x="624.78" y="87.64" width="6.5" height="6.5"/><rect x="630.69" y="82.62" width="6.5" height="6.5"/><rect x="636.61" y="77.41" width="6.5" height="6.5"/><rect x="642.52" y="73.09" width="6.5" height="6.5"/><rect x="648.44" y="71.43" width="6.5" height="6.5"/></g>
<rect x="402.92" y="54.5" width="102.53" height="96.4" fill="#fff"/><path fill="none" stroke="#555" stroke-width="1.2" d="M402.92,54.5H505.45M402.92,150.9H505.45"/><path fill="none" stroke="#000" stroke-width="0.9" d="M402.92,54.1V151.3M505.45,54.1V151.3"/><line x1="410.97" y1="66.0" x2="450.91" y2="66.0" stroke="#f00" stroke-width="4" stroke-dasharray="8 7.8"/><path fill="#f00" d="M430.91,56.7L422.68,70.95L439.14,70.95Z"/><line x1="410.97" y1="84.4" x2="450.91" y2="84.4" stroke="#0ff" stroke-width="4.4" stroke-dasharray="8 7.8"/><circle cx="430.91" cy="84.4" r="6.2" fill="#0ff"/><line x1="410.97" y1="102.8" x2="450.91" y2="102.8" stroke="#0f0" stroke-width="5.8" stroke-dasharray="8 7.8"/><line x1="410.97" y1="121.1" x2="450.91" y2="121.1" stroke="#00f" stroke-width="4" stroke-dasharray="8 7.8"/><path fill="none" stroke="#00f" stroke-width="4.6" d="M426.91,121.1H434.91M430.91,116.5V125.7"/><line x1="410.97" y1="139.4" x2="450.91" y2="139.4" stroke="#f0f" stroke-width="1.6" stroke-dasharray="8 7.8"/><rect x="427.66" y="136.15" width="6.5" height="6.5" fill="none" stroke="#f0f" stroke-width="1.8"/>
</g>
<g fill="#000" opacity="0.999"><text transform="translate(700,70.8) scale(0.1476,0.1000)" text-rendering="geometricPrecision" font-family="Liberation Sans" font-size="139.0" text-anchor="start">m = 0.0</text><text transform="translate(700,89.2) scale(0.1476,0.1000)" text-rendering="geometricPrecision" font-family="Liberation Sans" font-size="139.0" text-anchor="start">m = 0.1</text><text transform="translate(700,107.6) scale(0.1476,0.1000)" text-rendering="geometricPrecision" font-family="Liberation Sans" font-size="139.0" text-anchor="start">m = 0.5</text><text transform="translate(700,125.9) scale(0.1476,0.1000)" text-rendering="geometricPrecision" font-family="Liberation Sans" font-size="139.0" text-anchor="start">m = 0.8</text><text transform="translate(700,144.2) scale(0.1476,0.1000)" text-rendering="geometricPrecision" font-family="Liberation Sans" font-size="139.0" text-anchor="start">m = 1.0</text><text transform="translate(40.1,246.5) scale(0.1700,0.1000) rotate(-90)" text-rendering="geometricPrecision" font-family="Liberation Sans" font-size="255.0" text-anchor="middle">Be</text><text transform="translate(547.5,516.4) scale(0.1660,0.1000)" text-rendering="geometricPrecision" font-family="Liberation Serif" font-size="285.0" text-anchor="middle">η</text></g>
</svg></body></html>
